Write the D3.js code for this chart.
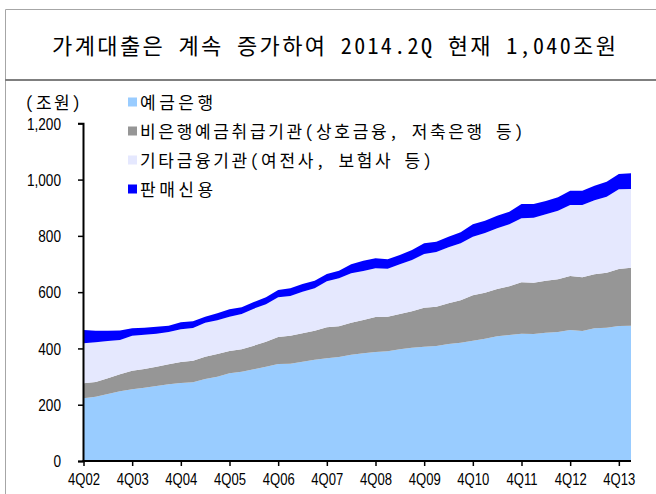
<!DOCTYPE html>
<html>
<head>
<meta charset="utf-8">
<script src="https://cdn.jsdelivr.net/npm/d3@7"></script>
<style>
  html, body { margin: 0; padding: 0; background: #fff; }
  svg { display: block; }
  text { font-family: "Liberation Sans", Arial, sans-serif; }
  .kr { font-family: "Noto Sans Mono CJK KR", "Noto Sans CJK KR", "Noto Sans", sans-serif; }
</style>
</head>
<body>
<svg id="chart" width="656" height="494"></svg>
<script>
// Quarterly household credit, 4Q02 – 1Q14 (조원)
const quarters = [
  "4Q02","1Q03","2Q03","3Q03","4Q03","1Q04","2Q04","3Q04","4Q04","1Q05","2Q05","3Q05",
  "4Q05","1Q06","2Q06","3Q06","4Q06","1Q07","2Q07","3Q07","4Q07","1Q08","2Q08","3Q08",
  "4Q08","1Q09","2Q09","3Q09","4Q09","1Q10","2Q10","3Q10","4Q10","1Q11","2Q11","3Q11",
  "4Q11","1Q12","2Q12","3Q12","4Q12","1Q13","2Q13","3Q13","4Q13","1Q14"
];
const depositBanks = [
  222.7,228.6,238.0,247.6,254.7,260.6,266.5,272.4,277.2,279.5,291.4,299.7,
  311.5,317.5,325.8,335.2,344.7,345.9,353.0,360.0,364.8,369.6,378.0,382.6,
  387.3,389.7,396.8,402.8,406.3,408.7,415.8,420.6,427.6,434.5,443.0,447.8,
  452.5,451.3,456.0,458.4,465.5,462.0,471.5,473.8,479.7,480.9
];
const nonBanks = [
  53.3,52.1,55.8,60.4,66.3,66.4,68.5,71.2,74.6,77.1,79.4,80.3,
  79.5,79.4,84.0,88.8,95.9,99.5,100.7,103.0,110.2,108.9,113.5,118.4,
  124.4,123.2,125.6,129.1,138.6,139.8,144.5,150.4,161.1,163.7,168.2,172.9,
  182.4,182.4,184.8,187.2,191.9,190.7,191.9,195.5,202.6,206.1
];
const otherFin = [
  142.0,140.9,132.6,122.0,124.4,122.0,117.5,114.8,116.2,116.0,120.7,120.0,
  121.9,125.5,131.5,132.8,141.0,141.0,148.0,150.6,163.5,170.7,175.5,174.2,
  172.9,170.5,176.5,182.4,190.7,194.2,199.0,202.5,208.5,211.8,215.6,220.3,
  227.5,231.0,235.8,244.0,252.3,257.0,262.9,270.0,283.1,279.6
];
const salesCredit = [
  47.5,41.4,36.6,34.0,26.1,24.8,24.9,22.6,24.8,23.7,21.4,24.8,
  26.0,23.7,23.7,24.8,26.1,27.2,27.3,27.2,26.0,27.1,32.5,36.7,
  35.6,33.2,33.1,35.5,37.9,36.7,37.9,39.1,43.8,43.5,45.0,45.0,
  50.9,48.6,47.4,47.4,51.0,51.0,52.1,53.3,54.5,55.6
];
const seriesNames = ["예금은행", "비은행예금취급기관(상호금융, 저축은행 등)", "기타금융기관(여전사, 보험사 등)", "판매신용"];
const seriesColors = ["#99ccff", "#969696", "#e5e8fe", "#0000ff"];
const yTicks = [0, 200, 400, 600, 800, 1000, 1200];
const xTickLabels = ["4Q02","4Q03","4Q04","4Q05","4Q06","4Q07","4Q08","4Q09","4Q10","4Q11","4Q12","4Q13"];
const titleText = "가계대출은 계속 증가하여 2014.2Q 현재 1,040조원";
const unitText = "(조원)";

const rows = quarters.map((q, i) => ({
  i, q,
  s0: depositBanks[i], s1: nonBanks[i], s2: otherFin[i], s3: salesCredit[i]
}));
const keys = ["s0", "s1", "s2", "s3"];
const stacked = d3.stack().keys(keys)(rows);

const svg = d3.select("#chart");

// narrow the Arial-style tick labels horizontally
function condense(sel, factor) {
  sel.each(function () {
    const w = this.getComputedTextLength();
    d3.select(this).attr("textLength", w * factor).attr("lengthAdjust", "spacingAndGlyphs");
  });
}

// Korean text set on a fixed grid: full-width Hangul, narrower ASCII
const isWide = ch => /[\u1100-\u11ff\u3130-\u318f\uac00-\ud7af]/.test(ch);
function gridWidth(str, pitch) {
  return Array.from(str).reduce((s, ch) => s + (isWide(ch) ? pitch : pitch * 0.585), 0);
}

// outer frame and title band
svg.append("path")
  .attr("d", "M5.5,494 V9.5 H656")
  .attr("fill", "none").attr("stroke", "#a6a6a6").attr("stroke-width", 1);
svg.append("line")
  .attr("x1", 5).attr("x2", 656).attr("y1", 80).attr("y2", 80)
  .attr("stroke", "#7f7f7f").attr("stroke-width", 2);
svg.append("text").attr("class", "kr")
  .attr("x", 334).attr("y", 54).attr("text-anchor", "middle")
  .attr("font-size", 22).attr("fill", "#000")
  .attr("textLength", gridWidth(titleText, 22.6))
  .text(titleText);

const x = d3.scaleLinear().domain([0, quarters.length - 1]).range([83.5, 631]);
const y = d3.scaleLinear().domain([0, 1200]).range([461, 123.3]);

const area = d3.area()
  .x(d => x(d.data.i))
  .y0(d => y(d[0]))
  .y1(d => y(d[1]));

svg.append("g").selectAll("path")
  .data(stacked)
  .join("path")
  .attr("d", area)
  .attr("fill", (d, k) => seriesColors[k]);

// y axis
const yAxis = d3.axisLeft(y).tickValues(yTicks).tickSize(5).tickPadding(17)
  .tickFormat(d3.format(","));
const gy = svg.append("g").attr("transform", "translate(83,0)").call(yAxis);
gy.select(".domain").attr("stroke", "#000").attr("stroke-width", 2);
gy.selectAll(".tick line").attr("stroke", "#000").attr("stroke-width", 1.5);
gy.selectAll("text").attr("font-size", 17).attr("fill", "#000")
  .attr("font-family", "Liberation Sans, Arial, sans-serif").attr("dy", "0.34em")
  .call(condense, 0.8);

// x axis: labels every fourth quarter
const xTickIdx = xTickLabels.map(l => quarters.indexOf(l));
const xAxis = d3.axisBottom(x).tickValues(xTickIdx).tickSize(5).tickPadding(7)
  .tickFormat(i => quarters[i]).tickSizeOuter(0);
const gx = svg.append("g").attr("transform", "translate(0,461)").call(xAxis);
gx.select(".domain").attr("stroke", "#000").attr("stroke-width", 2)
  .attr("d", `M${x.range()[0] - 1},0H${x.range()[1]}`);
gx.selectAll(".tick line").attr("stroke", "#000").attr("stroke-width", 1.5);
gx.selectAll("text").attr("font-size", 17).attr("fill", "#000")
  .attr("font-family", "Liberation Sans, Arial, sans-serif")
  .call(condense, 0.77);

// unit label
svg.append("text").attr("class", "kr")
  .attr("x", 25).attr("y", 109).attr("font-size", 17).attr("fill", "#000")
  .attr("textLength", gridWidth(unitText, 17.5))
  .text(unitText);

// legend
const legend = svg.append("g");
seriesNames.forEach((name, k) => {
  const cy = 102 + k * 29;
  legend.append("rect").attr("x", 128).attr("y", cy - 4.5).attr("width", 9).attr("height", 9)
    .attr("fill", seriesColors[k]);
  legend.append("text").attr("class", "kr")
    .attr("x", 140).attr("y", cy + 6.5).attr("font-size", 17)
    .attr("textLength", gridWidth(name, 18.3))
    .attr("fill", "#000").text(name);
});
</script>
</body>
</html>
